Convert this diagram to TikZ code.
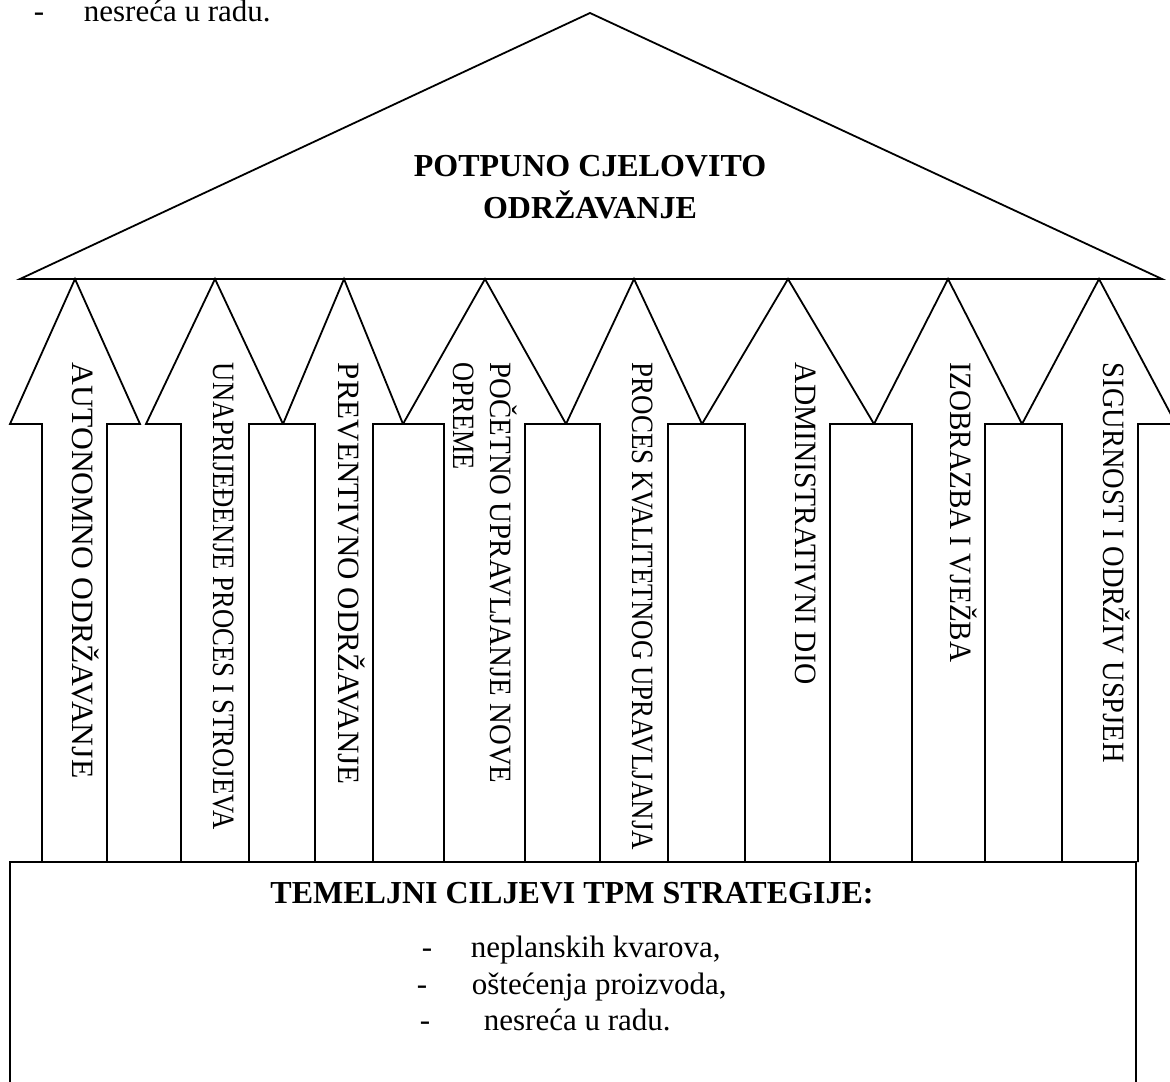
\documentclass[tikz,border=0pt]{standalone}
\usepackage{fontspec}
\setmainfont{Liberation Serif}

\begin{document}
\begin{tikzpicture}[x=0.5pt,y=-0.5pt,line width=0.9pt,
	pillar/.style={rotate=-90,anchor=base west,inner sep=0pt,font=\fontsize{15.5}{18}\selectfont},
	roofhead/.style={anchor=base,inner sep=0pt,font=\fontsize{16}{20}\selectfont\bfseries},
	goal/.style={anchor=base west,inner sep=0pt,font=\fontsize{15.5}{18}\selectfont}]
	\useasboundingbox (0,0) rectangle (1170,1081);
	% stray line from the page above
	\node [goal] (topdash) at (33,22) {-};
	\node [goal] (topline) at (83,22) {nesreća u radu.};
	% roof
	\draw (20,279) -- (590,13) -- (1162,279) -- cycle;
	\node [roofhead] (naslov1) at (590,176) {POTPUNO CJELOVITO};
	\node [roofhead] (naslov2) at (590,218) {ODRŽAVANJE};
	% pillars
	\draw (42,862) -- (42,424) -- (10,424) -- (75,279) -- (140,424) -- (107,424) -- (107,862);
	\draw (181,862) -- (181,424) -- (146,424) -- (215,279) -- (283,424) -- (249,424) -- (249,862);
	\draw (315,862) -- (315,424) -- (283,424) -- (344,279) -- (403,424) -- (373,424) -- (373,862);
	\draw (444,862) -- (444,424) -- (403,424) -- (485,279) -- (566,424) -- (525,424) -- (525,862);
	\draw (600,862) -- (600,424) -- (566,424) -- (634,279) -- (702,424) -- (668,424) -- (668,862);
	\draw (745,862) -- (745,424) -- (702,424) -- (788,279) -- (874,424) -- (830,424) -- (830,862);
	\draw (912,862) -- (912,424) -- (874,424) -- (948,279) -- (1022,424) -- (985,424) -- (985,862);
	\draw (1062,862) -- (1062,424) -- (1022,424) -- (1099,279) -- (1176,424) -- (1138,424) -- (1138,862);
	\node [pillar,xscale=1.02] (autonomno) at (72,362) {AUTONOMNO ODRŽAVANJE};
	\node [pillar,xscale=0.86] (unaprijedenje) at (213,362) {UNAPRIJEĐENJE PROCES I STROJEVA};
	\node [pillar] (preventivno) at (338,362) {PREVENTIVNO ODRŽAVANJE};
	\node [pillar,xscale=0.93] (pocetno) at (490,362) {POČETNO UPRAVLJANJE NOVE};
	\node [pillar,xscale=0.85] (opreme) at (453,362) {OPREME};
	\node [pillar,xscale=0.87] (kvaliteta) at (632,362) {PROCES KVALITETNOG UPRAVLJANJA};
	\node [pillar,xscale=0.95] (administrativni) at (795,362) {ADMINISTRATIVNI DIO};
	\node [pillar,xscale=0.94] (izobrazba) at (950,362) {IZOBRAZBA I VJEŽBA};
	\node [pillar,xscale=0.92] (sigurnost) at (1103,362) {SIGURNOST I ODRŽIV USPJEH};
	% foundation
	\draw (10,1095) -- (10,862) -- (1136,862) -- (1136,1095);
	\node [roofhead] (temelj) at (572,903) {TEMELJNI CILJEVI TPM STRATEGIJE:};
	\node [goal] (dash1) at (421,957) {-};
	\node [goal] (cilj1) at (470,957) {neplanskih kvarova,};
	\node [goal] (dash2) at (416,994) {-};
	\node [goal] (cilj2) at (471,994) {oštećenja proizvoda,};
	\node [goal] (dash3) at (419,1030) {-};
	\node [goal] (cilj3) at (483,1030) {nesreća u radu.};
\end{tikzpicture}
\end{document}
